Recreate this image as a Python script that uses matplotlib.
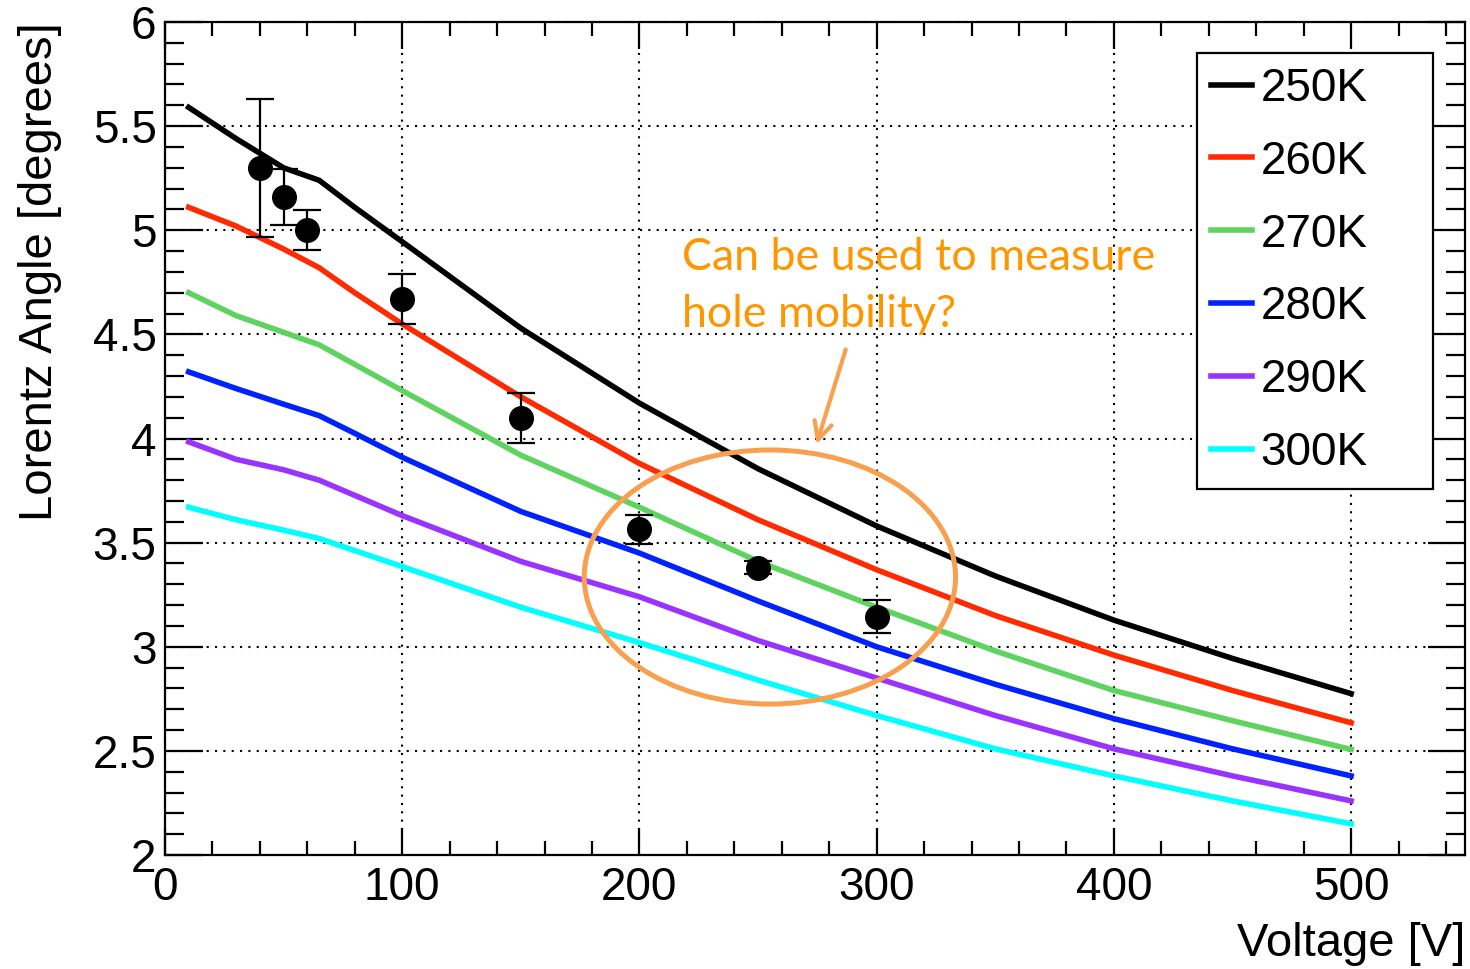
import matplotlib
matplotlib.use("Agg")
from matplotlib import pyplot as plt
from matplotlib.patches import Ellipse

plt.rcParams["font.family"] = ["Liberation Sans", "DejaVu Sans"]

# simulated Lorentz angle vs bias voltage
voltage = [10, 30, 50, 65, 80, 100, 150, 200, 250, 300, 350, 400, 450, 500]
angle_250 = [5.59, 5.44, 5.30, 5.24, 5.11, 4.945, 4.53, 4.17, 3.855, 3.58, 3.34, 3.128, 2.944, 2.775]
angle_260 = [5.11, 5.02, 4.91, 4.82, 4.70, 4.55, 4.20, 3.88, 3.61, 3.37, 3.15, 2.96, 2.79, 2.635]
angle_270 = [4.70, 4.59, 4.51, 4.45, 4.356, 4.23, 3.92, 3.67, 3.41, 3.19, 2.98, 2.79, 2.645, 2.507]
angle_280 = [4.32, 4.24, 4.165, 4.11, 4.025, 3.91, 3.65, 3.45, 3.22, 3.00, 2.82, 2.655, 2.51, 2.38]
angle_290 = [3.984, 3.90, 3.85, 3.80, 3.727, 3.63, 3.41, 3.24, 3.03, 2.85, 2.67, 2.51, 2.38, 2.26]
angle_300 = [3.67, 3.61, 3.56, 3.52, 3.462, 3.385, 3.19, 3.02, 2.84, 2.67, 2.51, 2.38, 2.26, 2.15]

temps = ["250K", "260K", "270K", "280K", "290K", "300K"]
colors = ["black", "#ff2a00", "#5fd35f", "#0022ff", "#9933ff", "#00ffff"]

# measured points
meas_v = [40, 50, 60, 100, 150, 200, 250, 300]
meas_angle = [5.30, 5.16, 5.00, 4.67, 4.10, 3.565, 3.38, 3.145]
meas_err = [0.33, 0.135, 0.095, 0.12, 0.12, 0.07, 0.03, 0.08]

fig = plt.figure(figsize=(14.7, 9.69), dpi=100)
ax = fig.add_axes([0.1122, 0.1176, 0.8844, 0.8597])

curves = [angle_250, angle_260, angle_270, angle_280, angle_290, angle_300]
for vals, lab, c in zip(curves, temps, colors):
    ax.plot(voltage, vals, color=c, lw=4, label=lab, zorder=3)

ax.errorbar(meas_v, meas_angle, yerr=meas_err, fmt="o", color="black",
            markersize=17, elinewidth=1.6, capsize=10, capthick=1.6, zorder=5)

ax.set_xlim(0, 548)
ax.set_ylim(2, 6)
ax.set_xticks([0, 100, 200, 300, 400, 500])
ax.set_xticks(range(0, 548, 20), minor=True)
ax.set_yticks([2, 2.5, 3, 3.5, 4, 4.5, 5, 5.5, 6])
ax.set_yticklabels(["2", "2.5", "3", "3.5", "4", "4.5", "5", "5.5", "6"])
ax.set_yticks([2 + 0.1 * i for i in range(41)], minor=True)

ax.tick_params(which="both", direction="in", top=True, right=True,
               labelsize=33, width=1.6, color="black")
ax.tick_params(axis="x", which="major", length=19.5, pad=8)
ax.tick_params(axis="x", which="minor", length=10)
ax.tick_params(axis="y", which="major", length=27, pad=6)
ax.tick_params(axis="y", which="minor", length=14)
for s in ax.spines.values():
    s.set_linewidth(1.6)

ax.grid(True, which="major", color="black", linestyle=(0, (1, 3)), lw=1.5)
ax.set_axisbelow(True)

ax.set_xlabel("Voltage [V]", fontsize=34, loc="right")
ax.set_ylabel("Lorentz Angle [degrees]", fontsize=34, loc="top")
ax.xaxis.set_label_coords(1.0, -0.08)
ax.yaxis.set_label_coords(-0.079, 1.0)

leg = ax.legend(loc="upper left", bbox_to_anchor=(0.794, 0.4406, 0.181, 0.5224),
                mode="expand", borderaxespad=0,
                fontsize=33, handlelength=0.9, handletextpad=0.18, labelspacing=0.632,
                borderpad=0.3, fancybox=False, framealpha=1, edgecolor="black")
leg.get_frame().set_linewidth(1.6)
leg.set_zorder(10)

# annotation
ax.add_patch(Ellipse((255, 3.335), 156.5, 1.22, fill=False, edgecolor="#f8a050",
                     lw=3.6, zorder=6))
ax.annotate("", xy=(274.3, 3.96), xytext=(287.3, 4.44),
            arrowprops=dict(arrowstyle="->", color="#f8a050", lw=3, mutation_scale=32),
            zorder=6)
ax.text(218, 4.81, "Can be used to measure", color="#ff9600", fontsize=32.2,
        family=["Lato", "DejaVu Sans"], va="baseline", ha="left", zorder=7)
ax.text(218, 4.535, "hole mobility?", color="#ff9600", fontsize=32.2,
        family=["Lato", "DejaVu Sans"], va="baseline", ha="left", zorder=7)

fig.savefig("out.png", dpi=100)
